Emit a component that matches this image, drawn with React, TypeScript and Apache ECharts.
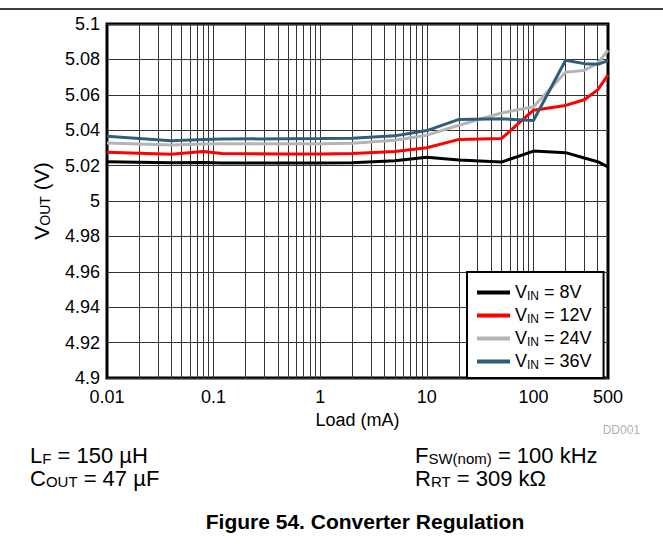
import React, { useEffect, useRef } from 'react';
import * as echarts from 'echarts';

// Load current (mA)
const loads = [0.01, 0.04, 0.08, 0.12, 0.5, 1, 2, 5, 10, 20, 50, 100, 200, 300, 400, 500];
// VOUT (V) per input voltage
const vin8 = [5.0222, 5.0216, 5.0217, 5.0214, 5.0214, 5.0214, 5.0216, 5.0228, 5.0247, 5.0232, 5.022, 5.0282, 5.0273, 5.0243, 5.0222, 5.0193];
const vin12 = [5.0275, 5.0264, 5.0279, 5.0269, 5.0266, 5.0266, 5.0268, 5.028, 5.0301, 5.0348, 5.0353, 5.0513, 5.054, 5.0572, 5.0628, 5.0712];
const vin24 = [5.0328, 5.0317, 5.0322, 5.0323, 5.0323, 5.0323, 5.0326, 5.0343, 5.0372, 5.0428, 5.0497, 5.0532, 5.0728, 5.0738, 5.0778, 5.0852];
const vin36 = [5.0366, 5.034, 5.0348, 5.035, 5.0352, 5.0353, 5.0355, 5.0368, 5.0398, 5.0461, 5.0464, 5.0455, 5.0795, 5.0776, 5.0772, 5.0793];

const seriesNames = ['8V', '12V', '24V', '36V'];
const seriesValues = [vin8, vin12, vin24, vin36];
const seriesColors = ['#000000', '#ff0000', '#b4b4b4', '#2f5f78'];

const xMin = 0.01;
const xMax = 500;
const yMin = 4.9;
const yMax = 5.1;
const yStep = 0.02;

// vertical grid lines: 1..9 x 10^k inside the axis range
const xGridValues: number[] = [];
for (let e = -2; e <= 2; e++) {
  for (let m = 1; m <= 9; m++) {
    const v = +(m * Math.pow(10, e)).toPrecision(3);
    if (v > xMin && v < xMax) xGridValues.push(v);
  }
}

const FONT = '"Liberation Sans", Arial, Helvetica, sans-serif';

function subRich(main: number, sub: number, lh: number, subLh: number, pad: number) {
  return {
    n: { fontSize: main, fontFamily: FONT, color: '#000', lineHeight: lh, verticalAlign: 'top' },
    s: { fontSize: sub, fontFamily: FONT, color: '#000', lineHeight: subLh, padding: [pad, 0, 0, 0], verticalAlign: 'bottom' },
  };
}

export default function App() {
  const ref = useRef<HTMLDivElement>(null);
  useEffect(() => {
    if (!ref.current) return;
    const chart = echarts.init(ref.current, null, { renderer: 'svg' });
    const footRich = subRich(22, 15, 22, 13, 12);
    const option: any = {
      animation: false,
      backgroundColor: '#fff',
      textStyle: { fontFamily: FONT },
      grid: {
        left: 107, top: 24, right: 55, bottom: 170,
        show: true, borderColor: '#000', borderWidth: 3, backgroundColor: 'transparent',
      },
      xAxis: {
        type: 'log', logBase: 10, min: xMin, max: xMax,
        axisLine: { show: false }, axisTick: { show: false }, splitLine: { show: false },
        axisLabel: {
          fontSize: 18, color: '#000', fontFamily: FONT, margin: 10,
          showMinLabel: true, showMaxLabel: true,
          formatter: (v: number) => String(+(+v).toPrecision(3)),
        },
        name: 'Load (mA)', nameLocation: 'middle', nameGap: 32,
        nameTextStyle: { fontSize: 18, color: '#000', fontFamily: FONT },
      },
      yAxis: {
        type: 'value', min: yMin, max: yMax, interval: yStep,
        axisLine: { show: false }, axisTick: { show: false },
        splitLine: { show: true, lineStyle: { color: '#333', width: 1 } },
        axisLabel: {
          fontSize: 18, color: '#000', fontFamily: FONT, margin: 7,
          formatter: (v: number) => String(+(+v).toFixed(2)),
        },
        name: '{n|V}{s|OUT}{n| (V)}', nameLocation: 'middle', nameGap: 55, nameRotate: 90,
        nameTextStyle: { rich: subRich(21, 14, 21, 12, 10) },
      },
      legend: {
        data: seriesNames,
        z: 20, zlevel: 0,
        orient: 'vertical', left: 467, top: 272,
        backgroundColor: '#fff', borderColor: '#000', borderWidth: 2, borderRadius: 0,
        padding: [7, 12, 7, 10],
        itemWidth: 33, itemHeight: 4, itemGap: 0, itemTextGap: 10,
        icon: 'rect', selectedMode: false,
        formatter: (n: string) => `{n|V}{s|IN}{n| = ${n}}`,
        textStyle: { rich: subRich(18, 12, 19, 10, 11) },
      },
      series: [
        {
          type: 'line', name: 'grid', data: [[1, 5]], symbol: 'none', silent: true, z: 1,
          lineStyle: { opacity: 0 },
          markLine: {
            silent: true, symbol: 'none', label: { show: false }, z: 1,
            lineStyle: { color: '#333', width: 1, type: 'solid' },
            data: xGridValues.map((v) => ({ xAxis: v })),
          },
        },
        ...seriesNames.map((name, i) => ({
          type: 'line', name, symbol: 'none', z: 3,
          data: loads.map((x, j) => [x, seriesValues[i][j]]),
          lineStyle: { width: 3, color: seriesColors[i] },
          itemStyle: { color: seriesColors[i] },
        })),
      ],
      graphic: [
        { type: 'line', shape: { x1: 0, y1: 9, x2: 663, y2: 9 }, style: { stroke: '#000', lineWidth: 1.5 } },
        { type: 'text', x: 640, y: 430, style: { text: 'DD001', font: `12px ${FONT}`, fill: '#b0b0b0', textAlign: 'right', textVerticalAlign: 'middle' } },
        { type: 'text', x: 30, y: 455, style: { text: '{n|L}{s|F}{n| = 150 µH}', rich: footRich, textVerticalAlign: 'middle' } },
        { type: 'text', x: 30, y: 478, style: { text: '{n|C}{s|OUT}{n| = 47 µF}', rich: footRich, textVerticalAlign: 'middle' } },
        { type: 'text', x: 415, y: 455, style: { text: '{n|F}{s|SW(nom)}{n| = 100 kHz}', rich: footRich, textVerticalAlign: 'middle' } },
        { type: 'text', x: 415, y: 478, style: { text: '{n|R}{s|RT}{n| = 309 kΩ}', rich: footRich, textVerticalAlign: 'middle' } },
        { type: 'text', x: 365, y: 521, style: { text: 'Figure 54. Converter Regulation', font: `bold 21px ${FONT}`, fill: '#000', textAlign: 'center', textVerticalAlign: 'middle' } },
      ],
    };
    chart.setOption(option);
    return () => chart.dispose();
  }, []);
  return <div ref={ref} style={{ position: 'fixed', left: 0, top: 0, width: 663, height: 548 }} />;
}
